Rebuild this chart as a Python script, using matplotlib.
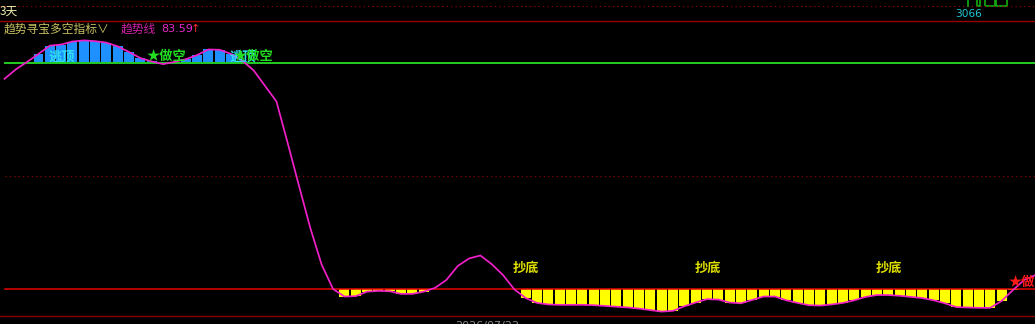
import matplotlib
matplotlib.use('Agg')
import matplotlib.pyplot as plt
from matplotlib.patches import Rectangle

plt.rcParams['font.family'] = ['Noto Sans CJK SC', 'DejaVu Sans']

# ---------------- data ----------------
trend = [75.8, 78.3, 80.3, 82.4, 84.6, 84.9, 85.7, 86.0, 85.8, 85.4,
         84.4, 82.9, 81.3, 80.4, 79.7, 80.3, 81.0, 82.1, 83.6, 83.5,
         82.4, 80.6, 78.0, 73.9, 69.8, 58.7, 47.3, 36.1, 26.4, 20.0,
         18.0, 18.1, 19.3, 19.5, 19.4, 18.7, 18.7, 19.3, 20.3, 22.4,
         26.1, 28.1, 28.9, 26.6, 23.7, 19.9, 17.6, 16.3, 15.9, 15.8,
         15.8, 15.8, 15.7, 15.5, 15.3, 15.1, 14.8, 14.4, 14.0, 14.2,
         15.4, 16.4, 17.3, 17.2, 16.4, 16.2, 17.1, 18.0, 18.0, 17.0,
         16.3, 15.7, 15.6, 15.9, 16.3, 17.0, 17.9, 18.4, 18.4, 18.2,
         17.9, 17.6, 17.0, 16.2, 15.2, 15.1, 15.0, 15.0, 16.8, 19.7,
         22.4, 23.7]
upper_level = 80
mid_level = 50
lower_level = 20

signal_text = ["逃顶", "★做空", "逃顶", "★做空", "抄底", "抄底", "抄底", "★做多"]
signal_idx = [3.85, 12.5, 19.9, 20.25, 44.9, 60.9, 76.9, 88.6]
signal_val = [81.6, 81.9, 81.6, 81.9, 25.6, 25.6, 25.6, 21.9]
signal_kind = ["top", "short", "top", "short", "bottom", "bottom", "bottom", "long"]

candle_idx = [85, 86, 87, 88]
candle_body = [0.0, 0.25, 0.9, 0.9]

indicator_name = "趋势寻宝多空指标"
line_name = "趋势线"
last_value = "83.59"
period_label = "3天"
price_label = "3066"
date_label = "2026/07/22"

# ---------------- style ----------------
W, H = 1035, 324
BG = 'black'
BLUE = '#1e90ff'
YELLOW = '#ffff00'
MAGENTA = '#f020c8'
GREEN = '#22cc22'
RED = '#e80000'
DARKRED = '#8a0000'
kind_color = {"top": '#30e0f0', "short": '#22dd22', "bottom": '#e0e000', "long": '#ff1a1a'}

fig = plt.figure(figsize=(W / 100, H / 100), dpi=100, facecolor=BG)
ax = fig.add_axes([0, 0, 1, 1], facecolor=BG)
ax.set_axis_off()

step = 11.33
x0 = 4.5
ax.set_xlim((0 - x0) / step, (W - x0) / step)
# pixel rows: upper level at 63, lower level at 289
pix_per_unit = (289 - 63) / (upper_level - lower_level)
ytop = upper_level + 63 / pix_per_unit
ybot = upper_level - (H - 63) / pix_per_unit
ax.set_ylim(ybot, ytop)

xs = list(range(len(trend)))

# bars
for i, v in zip(xs, trend):
    if v > upper_level:
        ax.bar(i, v - upper_level, bottom=upper_level, width=0.88, color=BLUE, zorder=2, linewidth=0)
    elif v < lower_level:
        ax.bar(i, v - lower_level, bottom=lower_level, width=0.88, color=YELLOW, zorder=2, linewidth=0)

# level lines
lx = 5 / W
ax.axhline(upper_level, xmin=lx, color=GREEN, lw=1.4, zorder=3)
ax.axhline(lower_level, xmin=lx, color=RED, lw=1.1, zorder=3)
ax.axhline(mid_level, xmin=lx, color=DARKRED, lw=0.9, ls=(0, (1, 2.5)), zorder=1)

# panel borders
ax.plot([0, 1], [1 - 21 / H] * 2, transform=ax.transAxes, color='#9a0000', lw=1.0)
ax.plot([0, 1], [1 - 316 / H] * 2, transform=ax.transAxes, color=DARKRED, lw=1.0)
ax.plot([0, 1], [1 - 6 / H] * 2, transform=ax.transAxes, color=DARKRED, lw=0.9, ls=(0, (1, 2.5)))

# trend line
ax.plot(xs, trend, color=MAGENTA, lw=1.25, zorder=4, solid_joinstyle='round')

# signals
for t, xi, yv, k in zip(signal_text, signal_idx, signal_val, signal_kind):
    ax.text(xi, yv, t, color=kind_color[k], fontsize=9.5, fontweight='bold',
            ha='left', va='center', zorder=5)

# price panel candle fragments (top right)
cy = 1 - 6 / H
for ci, cw in zip(candle_idx, candle_body):
    xc = (ci * step + x0) / W
    if cw == 0:
        ax.plot([xc, xc], [cy, 1.02], transform=ax.transAxes, color='#10b010', lw=1.2, clip_on=False)
    else:
        wf = cw * step / W
        ax.add_patch(Rectangle((xc - wf / 2, cy), wf, 0.05, transform=ax.transAxes,
                               fill=False, edgecolor='#10b010', lw=1.2, clip_on=True))

# header texts
fig.text(0 / W, 1 - 11 / H, period_label, color='#f0f0b0', fontsize=8.5, ha='left', va='center')
fig.text(955 / W, 1 - 14 / H, price_label, color='#20c8d0', fontsize=7.6, ha='left', va='center',
         family='DejaVu Sans')
fig.text(4 / W, 1 - 29 / H, indicator_name + "∨", color='#c8c060', fontsize=8.5, ha='left', va='center')
fig.text(121 / W, 1 - 29 / H, line_name, color='#d020a8', fontsize=8.5, ha='left', va='center')
fig.text(161 / W, 1 - 29 / H, last_value, color='#e828c8', fontsize=8.0, ha='left', va='center',
         family='DejaVu Sans')
fig.text(191 / W, 1 - 29 / H, "↑", color='#ff3030', fontsize=8.0, ha='left', va='center',
         family='DejaVu Sans')
fig.text(455 / W, 1 - 320.5 / H, date_label, color='#8a8a8a', fontsize=8.0, ha='left', va='top',
         family='DejaVu Sans')

fig.savefig('out.png', dpi=100, facecolor=BG)
